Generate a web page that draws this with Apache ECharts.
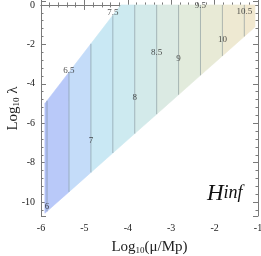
<!DOCTYPE html>
<html><head><meta charset="utf-8">
<script src="https://cdn.jsdelivr.net/npm/echarts@6/dist/echarts.min.js"></script>
<style>html,body{margin:0;padding:0;background:#fff}#c{width:261px;height:256px}</style>
</head><body><div id="c"></div>
<script>
// ---- data ----
const contourLevels = ['6','6.5','7','7.5','8','8.5','9','9.5','10','10.5'];
const contourX = [-5.86,-5.355,-4.85,-4.345,-3.84,-3.335,-2.83,-2.325,-1.82,-1.315];
const labelY = [-10.25,-3.35,-6.9,-0.4,-4.72,-2.44,-2.74,-0.05,-1.78,-0.36];
// allowed region: upper and lower boundary chains
const upperX = [-5.91,-4.16,-1.07];
const upperY = [-5.0,0,0];
const lowerX = [-5.91,-1.07];
const lowerY = [-10.56,-1.12];
const bandColors = ['#aebef6','#b9c9f9','#c4dcf9','#c9e8f4','#cdeaf0','#d3eaea','#dbeae3','#e2ebdc','#e8ead6','#eee9d2','#f1e8cf'];

function interp(xs, ys, x){
  for(let i=0;i<xs.length-1;i++){
    if(x>=xs[i]-1e-9 && x<=xs[i+1]+1e-9){
      const t=(x-xs[i])/(xs[i+1]-xs[i]);
      return ys[i]+t*(ys[i+1]-ys[i]);
    }
  }
  return x<xs[0]?ys[0]:ys[ys.length-1];
}
const edges = [upperX[0]].concat(contourX).concat([upperX[upperX.length-1]]);
const bands = [];
for(let i=0;i<edges.length-1;i++) bands.push({value:[edges[i],edges[i+1]], itemStyle:{color:bandColors[i]}});

const serif = '"Liberation Serif","DejaVu Serif",serif';
const chart = echarts.init(document.getElementById('c'), null, {renderer:'canvas'});
const axisCommon = {
  axisLine:{show:true,lineStyle:{color:'#7a7a7a',width:1}},
  axisTick:{show:true,inside:true,length:5,lineStyle:{color:'#7a7a7a'}},
  minorTick:{show:true,splitNumber:5,length:2.5,lineStyle:{color:'#7a7a7a'}},
  splitLine:{show:false}
};
chart.setOption({
  animation:false,
  grid:{left:41,top:1,width:217,height:215,containLabel:false,outerBoundsMode:'none'},
  xAxis:[
    Object.assign({type:'value',position:'bottom',min:-6,max:-1,interval:1,
      axisLabel:{margin:7,fontFamily:serif,fontSize:10,color:'#222'},
      name:'{a|Log}{b|10}{a|(μ/Mp)}',nameLocation:'middle',nameGap:21,nameMoveOverlap:false,
      nameTextStyle:{rich:{a:{fontFamily:serif,fontSize:15,color:'#222',lineHeight:18,verticalAlign:'bottom'},b:{fontFamily:serif,fontSize:9,color:'#222',verticalAlign:'bottom',lineHeight:14}}}
    },axisCommon),
    Object.assign({type:'value',position:'top',min:-6,max:-1,interval:1,axisLabel:{show:false}},axisCommon)
  ],
  yAxis:[
    Object.assign({type:'value',position:'left',min:-10.7,max:0.2,
      axisLabel:{margin:6,fontFamily:serif,fontSize:10,color:'#222',showMinLabel:false,showMaxLabel:false},
      name:'{a|Log}{b|10}{a| λ}',nameLocation:'middle',nameGap:20,nameRotate:90,nameMoveOverlap:false,
      nameTextStyle:{rich:{a:{fontFamily:serif,fontSize:15,color:'#222',lineHeight:18,verticalAlign:'bottom'},b:{fontFamily:serif,fontSize:9,color:'#222',verticalAlign:'bottom',lineHeight:14}}}
    },axisCommon),
    Object.assign({type:'value',position:'right',min:-10.7,max:0.2,axisLabel:{show:false}},axisCommon)
  ],
  graphic:[{type:'text',left:207,top:182,z:100,style:{rich:{h:{fontFamily:serif,fontStyle:'italic',fontSize:23,fill:'#111'},s:{fontFamily:serif,fontStyle:'italic',fontSize:18,fill:'#111'}},text:'{h|H}{s|inf}'}}],
  series:[
    {type:'custom',xAxisIndex:0,yAxisIndex:0,data:bands,clip:true,silent:true,
      renderItem:function(params,api){
        const a=api.value(0), b=api.value(1);
        const pts=[[a,interp(lowerX,lowerY,a)],[b,interp(lowerX,lowerY,b)],[b,interp(upperX,upperY,b)]];
        for(let i=upperX.length-1;i>=0;i--) if(upperX[i]>a && upperX[i]<b) pts.push([upperX[i],upperY[i]]);
        pts.push([a,interp(upperX,upperY,a)]);
        const c=api.visual('color');
        return {type:'polygon',shape:{points:pts.map(p=>api.coord(p))},style:{fill:c,stroke:c,lineWidth:0.6}};
      }},
    {type:'custom',xAxisIndex:0,yAxisIndex:0,data:contourX.map(x=>[x]),silent:true,z:3,
      renderItem:function(params,api){
        const x=api.value(0);
        const p1=api.coord([x,interp(lowerX,lowerY,x)]), p2=api.coord([x,interp(upperX,upperY,x)]);
        return {type:'line',shape:{x1:p1[0],y1:p1[1],x2:p2[0],y2:p2[1]},style:{stroke:'rgba(110,130,140,0.5)',lineWidth:1}};
      }},
    {type:'scatter',xAxisIndex:0,yAxisIndex:0,z:5,symbolSize:0,silent:true,
      data:contourX.map((x,i)=>[x,labelY[i],contourLevels[i]]),
      label:{show:true,position:'inside',formatter:p=>p.value[2],fontFamily:serif,fontSize:9,color:'#222'}}
  ]
});
</script></body></html>
